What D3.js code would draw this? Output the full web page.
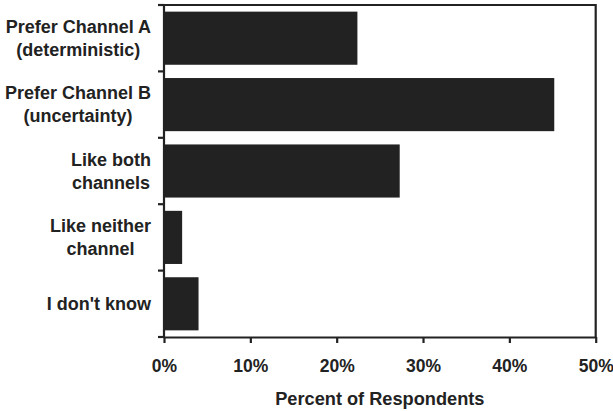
<!DOCTYPE html>
<html>
<head>
<meta charset="utf-8">
<script src="https://cdn.jsdelivr.net/npm/d3@7"></script>
<style>
  body { margin: 0; background: #fff; }
  text { font-family: "Liberation Sans", Arial, sans-serif; font-weight: bold; fill: #222; }
</style>
</head>
<body>
<svg width="613" height="411"></svg>
<script>
// categories (two label lines each) and percent values
var categories = ["A", "B", "both", "neither", "dontknow"];
var labelLines = [
    ["Prefer Channel A", "(deterministic)"],
    ["Prefer Channel B", "(uncertainty)"],
    ["Like both", "channels"],
    ["Like neither", "channel"],
    ["I don't know"]
];
var percents = [22.4, 45.2, 27.3, 2.1, 4.0];
var xTicks = [0, 10, 20, 30, 40, 50];

var svg = d3.select("svg");
var plotLeft = 164, plotRight = 595.7, plotTop = 5, plotBottom = 337;

var xScale = d3.scaleLinear().domain([0, 50]).range([plotLeft, plotRight]);
var yScale = d3.scaleBand().domain(categories).range([plotTop, plotBottom]).paddingInner(0.2).paddingOuter(0.1);

// frame: top and right lines
svg.append("path")
    .attr("d", "M" + (plotLeft - 6) + "," + plotTop + "H" + plotRight + "V" + plotBottom)
    .attr("fill", "none").attr("stroke", "#222").attr("stroke-width", 2.2);

// bars
svg.selectAll("rect.bar").data(percents).enter().append("rect")
    .attr("class", "bar")
    .attr("x", xScale(0))
    .attr("y", function (d, i) { return yScale(categories[i]); })
    .attr("width", function (d) { return xScale(d) - xScale(0); })
    .attr("height", yScale.bandwidth())
    .attr("fill", "#222");

// x axis
var xAxis = d3.axisBottom(xScale).tickValues(xTicks).tickSize(6).tickSizeOuter(0)
    .tickFormat(function (d) { return d + "%"; });
var xAxisG = svg.append("g").attr("transform", "translate(0," + plotBottom + ")").call(xAxis);
xAxisG.select(".domain").attr("stroke", "#222").attr("stroke-width", 2.2);
xAxisG.selectAll(".tick line").attr("stroke", "#222").attr("stroke-width", 2.2);
xAxisG.selectAll(".tick text").attr("y", 23).attr("dy", "0.71em").style("font-size", "17.5px")
    .style("font-family", "'Liberation Sans', Arial, sans-serif").style("font-weight", "bold").attr("fill", "#222");

// y axis: ticks at band boundaries
var boundaries = d3.range(categories.length + 1).map(function (i) {
    return plotTop + i * (plotBottom - plotTop) / categories.length;
});
svg.append("line").attr("x1", plotLeft).attr("x2", plotLeft).attr("y1", plotTop).attr("y2", plotBottom)
    .attr("stroke", "#222").attr("stroke-width", 2.2);
svg.selectAll("line.ytick").data(boundaries).enter().append("line")
    .attr("class", "ytick")
    .attr("x1", plotLeft - 6).attr("x2", plotLeft)
    .attr("y1", function (d) { return d; }).attr("y2", function (d) { return d; })
    .attr("stroke", "#222").attr("stroke-width", 2.2);

// category labels: block right-aligned, lines centred in block
var lineGap = 23;
labelLines.forEach(function (lines, i) {
    var cy = yScale(categories[i]) + yScale.bandwidth() / 2;
    var g = svg.append("g");
    var texts = lines.map(function (t, j) {
        return g.append("text")
            .attr("y", cy + (j - (lines.length - 1) / 2) * lineGap)
            .attr("dy", "0.34em")
            .attr("text-anchor", "middle")
            .style("font-size", "18px")
            .text(t);
    });
    var w = d3.max(texts, function (t) { return t.node().getComputedTextLength(); });
    texts.forEach(function (t) { t.attr("x", 151 - w / 2); });
});

// x axis title
svg.append("text")
    .attr("x", (plotLeft + plotRight) / 2).attr("y", 398).attr("dy", "0.36em")
    .attr("text-anchor", "middle")
    .style("font-size", "18.2px")
    .text("Percent of Respondents");
</script>
</body>
</html>
